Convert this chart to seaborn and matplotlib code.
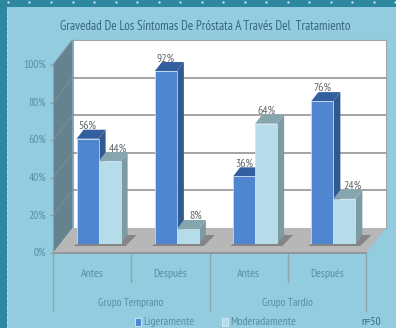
import numpy as np
import pandas as pd
import matplotlib
matplotlib.use("Agg")
import matplotlib.pyplot as plt
from matplotlib.lines import Line2D
from matplotlib.patches import Polygon, Rectangle
import seaborn as sns

# Survey results
groups = ["Grupo Temprano", "Grupo Temprano", "Grupo Tardío", "Grupo Tardío"]
phases = ["Antes", "Después", "Antes", "Después"]
ligeramente = [56, 92, 36, 76]
moderadamente = [44, 8, 64, 24]
series_names = ["Ligeramente", "Moderadamente"]
y_ticks = [0, 20, 40, 60, 80, 100]
title_text = "Gravedad De Los Síntomas De Próstata A Través Del  Tratamiento"

W, H = 396, 328
BG, BORDER = "#93cbdf", "#2e87a1"
FRONT = ["#4f86cf", "#b6dce9"]
TOP = ["#335f9f", "#85a6af"]
SIDE = ["#2f5a92", "#7d9ba3"]
TXT = "#5b8da3"
FONTS = ["PT Sans Narrow", "Liberation Sans", "DejaVu Sans"]

sns.set_theme(style="white")
plt.rcParams["font.family"] = FONTS

fig = plt.figure(figsize=(W / 100, H / 100), dpi=100, facecolor=BG)


def axes_px(left, top, right, bottom):
    return fig.add_axes([left / W, 1 - bottom / H, (right - left) / W, (bottom - top) / H])


# Front plane of the box carries the value scale and the category scale
L, R, Y0, Y100 = 53, 366, 253, 65
ax = axes_px(L, Y100, R, Y0)
ax.set_xlim(-0.5, 3.5)
ax.set_ylim(0, 100)
ax.axis("off")
ux = (R - L) / 4            # pixels per category
uy = (Y0 - Y100) / 100      # pixels per percentage point
wall_dx, wall_dy = 19.5 / ux, 25 / uy

# Back wall, side wall, floor
ax.add_patch(Polygon([(-0.5 + wall_dx, wall_dy), (3.5 + wall_dx, wall_dy),
                      (3.5 + wall_dx, 100 + wall_dy), (-0.5 + wall_dx, 100 + wall_dy)],
                     fc="white", ec="#a5a5a5", lw=0.8, clip_on=False, zorder=1))
ax.add_patch(Polygon([(-0.5, 0), (-0.5 + wall_dx, wall_dy),
                      (-0.5 + wall_dx, 100 + wall_dy), (-0.5, 100)],
                     fc="#64838f", ec="none", clip_on=False, zorder=1))
for v in y_ticks[1:-1]:
    ax.plot([-0.5 + wall_dx, 3.5 + wall_dx], [v + wall_dy] * 2, color="#8c8c8c", lw=1.1,
            clip_on=False, zorder=2, solid_capstyle="butt")
for v in y_ticks[1:]:
    ax.plot([-0.5, -0.5 + wall_dx], [v, v + wall_dy], color="#75909b", lw=0.8,
            clip_on=False, zorder=2)
ax.add_patch(Polygon([(-0.5, 0), (3.5, 0), (3.5 + wall_dx, wall_dy), (-0.5 + wall_dx, wall_dy)],
                     fc="#b7b7b7", ec="none", clip_on=False, zorder=3))
ax.plot([-0.5, 3.5], [0, 0], color="#8f979a", lw=1.4, clip_on=False, zorder=4)

# Value axis
ax.plot([-0.5, -0.5], [0, 100], color="#8fa3ab", lw=0.8, clip_on=False, zorder=4)
for v in y_ticks:
    ax.plot([-0.5 - 3 / ux, -0.5], [v, v], color="#8fa3ab", lw=0.8, clip_on=False, zorder=4)
    ax.text(-0.5 - 7 / ux, v, f"{v}%", ha="right", va="center", fontsize=8.3, color=TXT)

# Two-level category axis
for i, ph in enumerate(phases):
    ax.text(i, -21 / uy, ph, ha="center", va="center", fontsize=8.5, color=TXT)
for sep, depth in zip([-0.5, 0.5, 1.5, 2.5, 3.5], [58, 29, 58, 29, 58]):
    ax.plot([sep, sep], [0, -depth / uy], color="#8fa3ab", lw=1, clip_on=False, zorder=4)
for start in range(0, len(groups), 2):
    ax.text(start + 0.5, -50 / uy, groups[start], ha="center", va="center", fontsize=8.3, color=TXT)

# Bars stand a little behind the front edge of the floor
bar_dx, bar_dy = 6.5, 9
bx = axes_px(L + bar_dx, Y100 - bar_dy, R + bar_dx, Y0 - bar_dy)
labels = [f"{g}|{p}" for g, p in zip(groups, phases)]
df = pd.DataFrame({
    "cat": labels * 2,
    "serie": [series_names[0]] * 4 + [series_names[1]] * 4,
    "valor": ligeramente + moderadamente,
})
sns.barplot(data=df, x="cat", y="valor", hue="serie", order=labels, hue_order=series_names,
            palette=FRONT, width=0.5625, gap=0, legend=False, ax=bx, saturation=1,
            edgecolor="#cfe4f1", linewidth=0.5, zorder=5)
bx.set_xlim(-0.5, 3.5)
bx.set_ylim(0, 100)
bx.axis("off")
bx.patch.set_alpha(0)

dx, dy = 7 / ux, 9 / uy
bars = list(bx.patches)
values = ligeramente + moderadamente
n = len(labels)

# Shadow on the floor under each pair of bars
for i in range(n):
    x0 = bars[i].get_x()
    x1 = bars[i + n].get_x() + bars[i + n].get_width()
    sx0, sx1, drop = x0 - 3 / ux, x1 + 5 / ux, 2 / uy
    bx.add_patch(Polygon([(sx0, -drop), (sx1, -drop), (sx1 + dx + 4 / ux, dy),
                          (x1, dy), (x0, 0)],
                         fc="#858585", ec="none", clip_on=False, zorder=1))

# Depth faces, back to front so each bar covers its neighbour's side
for i in range(n):
    for k, idx in enumerate((i, i + n)):
        b = bars[idx]
        x0, w, h = b.get_x(), b.get_width(), values[idx]
        x1 = x0 + w
        bx.add_patch(Polygon([(x1, 0), (x1 + dx, dy), (x1 + dx, h + dy), (x1, h)],
                             fc=SIDE[k], ec="none", clip_on=False, zorder=2))
        bx.add_patch(Polygon([(x0, h), (x1, h), (x1 + dx, h + dy), (x0 + dx, h + dy)],
                             fc=TOP[k], ec="none", clip_on=False, zorder=2))
        # A short bar's label steps right, clear of the taller neighbour's side
        nudge = 8 / ux if k == 1 and values[i] > h else 0
        bx.text(x0 + w / 2 + nudge, h + dy - 0.6, f"{h}%", ha="center", va="bottom",
                fontsize=8.5, color="#5f6569", clip_on=False, zorder=6)

# Title, legend and sample size
fig.text(205 / W, 1 - 26 / H, title_text, ha="center", va="center", fontsize=9.4,
         color="#36677e")
for x, c, name in [(135, FRONT[0], series_names[0]), (222, FRONT[1], series_names[1])]:
    fig.add_artist(Rectangle((x / W, 1 - 326 / H), 6 / W, 8 / H, transform=fig.transFigure,
                             fc=c, ec="#d8eaf3", lw=0.6))
    fig.text((x + 8) / W, 1 - 322 / H, name, ha="left", va="center", fontsize=8.5, color=TXT)
fig.text(381 / W, 1 - 322 / H, "n=50", ha="right", va="center", fontsize=8,
         color="#36677e")

# Dotted teal frame along the top and left edges
fig.add_artist(Rectangle((0, 1 - 7 / H), 1, 7 / H, transform=fig.transFigure, fc=BORDER, ec="none"))
fig.add_artist(Rectangle((0, 0), 7 / W, 1, transform=fig.transFigure, fc=BORDER, ec="none"))
top_dots = np.arange(8, W, 21.5)
fig.add_artist(Line2D(top_dots / W, np.full_like(top_dots, 1 - 2 / H), transform=fig.transFigure,
                      ls="none", marker="o", ms=1.6, mfc="#d5ecf3", mec="none"))
fig.add_artist(Line2D([7 / W, 7 / W], [0, 1 - 7 / H], transform=fig.transFigure,
                      color="#bfe0ea", lw=0.7, ls=(0, (2, 3))))

fig.savefig("out.png", dpi=100, facecolor=BG)
